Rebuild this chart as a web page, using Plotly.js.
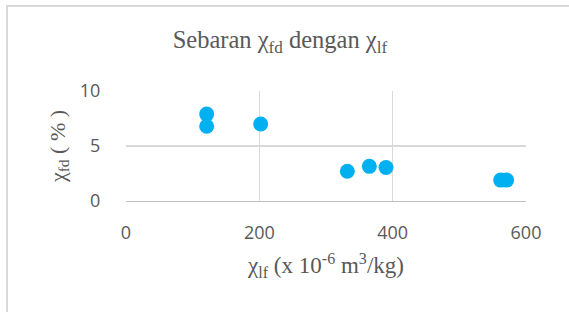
<!DOCTYPE html>
<html>
<head>
<meta charset="utf-8">
<script src="https://cdn.plot.ly/plotly-3.0.1.min.js"></script>
<style>
html,body{margin:0;padding:0;background:#fff;}
#frame{position:absolute;left:6px;top:5px;width:600px;height:400px;border-top:2px solid #d9d9d9;border-left:2px solid #d9d9d9;}
#chart{position:absolute;left:0;top:0;width:569px;height:312px;}
</style>
</head>
<body>
<div id="frame"></div>
<div id="chart"></div>
<script>
var chiLf = [121, 121, 202, 332, 365, 390, 562, 571];
var chiFd = [7.9, 6.8, 7.0, 2.7, 3.15, 3.05, 1.9, 1.9];
var xTicks = [0, 200, 400, 600];
var yTicks = [0, 5, 10];
var titleText = 'Sebaran χ<sub>fd</sub> dengan χ<sub>lf</sub>';
var xTitle = 'χ<sub>lf</sub> (x 10<sup>-6</sup> m<sup>3</sup>/kg)';
var yTitle = 'χ<sub>fd</sub> ( % )';

var trace = {
  x: chiLf, y: chiFd, type: 'scatter', mode: 'markers',
  marker: {color: '#00b0f0', size: 15},
  hoverinfo: 'none'
};
var serif = 'Liberation Serif, Times New Roman, serif';
var sans = 'Open Sans, Liberation Sans, sans-serif';
var layout = {
  width: 569, height: 312,
  paper_bgcolor: 'rgba(0,0,0,0)', plot_bgcolor: 'rgba(0,0,0,0)',
  margin: {l: 126, r: 43, t: 91, b: 111},
  showlegend: false,
  title: {text: titleText, font: {family: serif, size: 24.5, color: '#595959'}, x: 0.492, xanchor: 'center', y: 0.875, yanchor: 'middle'},
  xaxis: {
    range: [0, 600], tickvals: xTicks, ticktext: xTicks.map(String),
    showgrid: true, gridcolor: '#d9d9d9', gridwidth: 1.3,
    zeroline: false, showline: true, linecolor: '#bfbfbf', linewidth: 1.3,
    ticks: 'outside', ticklen: 15, tickcolor: 'rgba(0,0,0,0)',
    tickfont: {family: sans, size: 18, color: '#595959'},
    title: {text: xTitle, font: {family: serif, size: 23, color: '#595959'}, standoff: 14}
  },
  yaxis: {
    range: [0, 10], tickvals: yTicks, ticktext: yTicks.map(String),
    showgrid: true, gridcolor: '#d9d9d9', gridwidth: 1.3,
    zeroline: false, showline: false,
    ticks: 'outside', ticklen: 21, tickcolor: 'rgba(0,0,0,0)',
    tickfont: {family: sans, size: 18, color: '#595959'},
    title: {text: yTitle, font: {family: serif, size: 22, color: '#595959'}, standoff: 8}
  }
};
Plotly.newPlot('chart', [trace], layout, {displayModeBar: false, staticPlot: true});
</script>
</body>
</html>
